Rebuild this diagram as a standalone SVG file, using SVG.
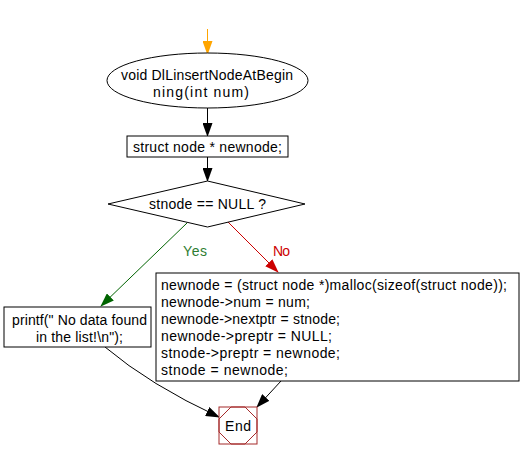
<svg xmlns="http://www.w3.org/2000/svg" width="521" height="460" viewBox="0 0 521 460">
<style>
text{font-family:"Liberation Sans",Arial,sans-serif;font-size:14px;fill:#000}
.shape{fill:#fff;stroke:#000;stroke-width:1}
.edge{fill:none;stroke:#000;stroke-width:1}
</style>
<defs>
<marker id="ab" markerWidth="14" markerHeight="10" refX="13" refY="5" orient="auto" markerUnits="userSpaceOnUse"><path d="M0,0 L14,5 L0,10 Z" fill="#000"/></marker>
<marker id="ao" markerWidth="14" markerHeight="10" refX="13" refY="5" orient="auto" markerUnits="userSpaceOnUse"><path d="M0,0 L14,5 L0,10 Z" fill="#ffa500"/></marker>
<marker id="ag" markerWidth="14" markerHeight="10" refX="13" refY="5" orient="auto" markerUnits="userSpaceOnUse"><path d="M0,0 L14,5 L0,10 Z" fill="#006400"/></marker>
<marker id="ar" markerWidth="14" markerHeight="10" refX="13" refY="5" orient="auto" markerUnits="userSpaceOnUse"><path d="M0,0 L14,5 L0,10 Z" fill="#cc0000"/></marker>
</defs>
<rect width="521" height="460" fill="#fff"/>
<g id="connectors">
<line x1="207.5" y1="29" x2="207.5" y2="54" stroke="#ffa500" stroke-width="1" marker-end="url(#ao)"/>
<line class="edge" x1="207.5" y1="108" x2="207.5" y2="136" marker-end="url(#ab)"/>
<line class="edge" x1="207.5" y1="157" x2="207.5" y2="181" marker-end="url(#ab)"/>
<line x1="187" y1="223" x2="101" y2="306" stroke="#006400" marker-end="url(#ag)"/>
<text x="183" y="256" textLength="24" style="fill:#2e7d32">Yes</text>
<line x1="228" y1="222" x2="278" y2="272" stroke="#cc0000" marker-end="url(#ar)"/>
<text x="273" y="256" textLength="17" style="fill:#cc0000">No</text>
<path class="edge" d="M105,347 Q150,385 219,417" marker-end="url(#ab)"/>
<line class="edge" x1="281" y1="381" x2="257" y2="407" marker-end="url(#ab)"/>
</g>
<g id="start">
<ellipse class="shape" cx="207.5" cy="80.5" rx="100.5" ry="27.5"/>
<text x="121" y="80" textLength="172">void DlLinsertNodeAtBegin</text>
<text x="153" y="97" textLength="96">ning(int num)</text>
</g>
<g id="decl">
<rect class="shape" x="127" y="136" width="161" height="21"/>
<text x="133" y="152" textLength="149">struct node * newnode;</text>
</g>
<g id="cond">
<polygon class="shape" points="207.5,181 305,204 207.5,227 108,204"/>
<text x="149" y="209" textLength="117">stnode == NULL ?</text>
</g>
<g id="printf">
<rect class="shape" x="4" y="307" width="147" height="40"/>
<text x="12" y="325" textLength="135">printf(" No data found</text>
<text x="36" y="342" textLength="87">in the list!\n");</text>
</g>
<g id="alloc">
<rect class="shape" x="156" y="273" width="363" height="108"/>
<text x="161" y="290" textLength="346">newnode = (struct node *)malloc(sizeof(struct node));</text>
<text x="161" y="307" textLength="149">newnode-&gt;num = num;</text>
<text x="161" y="324" textLength="179">newnode-&gt;nextptr = stnode;</text>
<text x="161" y="341" textLength="171">newnode-&gt;preptr = NULL;</text>
<text x="161" y="358" textLength="179">stnode-&gt;preptr = newnode;</text>
<text x="161" y="375" textLength="127">stnode = newnode;</text>
</g>
<g id="end">
<rect x="219" y="407" width="38" height="37" fill="#fff" stroke="#a52a2a"/>
<polygon points="231,407 245,407 257,419 257,432 245,444 231,444 219,432 219,419" fill="none" stroke="#a52a2a"/>
<text x="225" y="431" textLength="26">End</text>
</g>
</svg>
